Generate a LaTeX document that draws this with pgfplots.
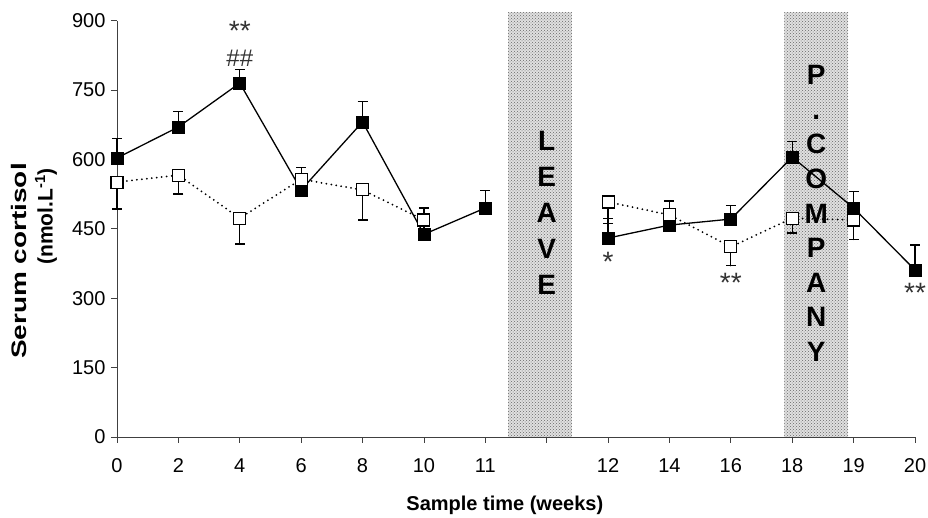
\documentclass[border=0pt]{standalone}
\usepackage{fontspec}
\setmainfont{Liberation Sans}
\usepackage{pgfplots}
\pgfplotsset{compat=1.18}
\usetikzlibrary{patterns}
\usepackage{graphicx}
\begin{document}
\begin{tikzpicture}
\begin{axis}[
  at={(0,0)}, anchor=south west,
  scale only axis, width=798pt, height=416.4pt,
  xmin=0, xmax=13, ymin=0, ymax=900,
  axis x line*=bottom, axis y line*=left,
  axis line style={-, black!75, line width=0.8pt},
  tick align=outside, major tick length=6pt,
  tick style={black!75, line width=0.8pt},
  xtick={0,...,13},
  xticklabels={0,2,4,6,8,10,11,,12,14,16,18,19,20},
  ytick={0,150,...,900},
  tick label style={font=\fontsize{20}{23}\selectfont},
  /pgf/number format/assume math mode=true,
  xticklabel style={font=\fontsize{20}{23}\selectfont, yshift=-12pt},
  yticklabel style={font=\fontsize{20}{23}\selectfont, xshift=-2pt},
  clip=false,
]
% shaded periods
\fill[black!12] (axis cs:6.37,0) rectangle (axis cs:7.41,918);
\fill[pattern=crosshatch dots, pattern color=black!60] (axis cs:6.37,0) rectangle (axis cs:7.41,918);
\fill[black!12] (axis cs:10.87,0) rectangle (axis cs:11.91,918);
\fill[pattern=crosshatch dots, pattern color=black!60] (axis cs:10.87,0) rectangle (axis cs:11.91,918);
\node[align=center, font=\bfseries\fontsize{28}{36}\selectfont, inner sep=0] at (axis cs:7.0,485) {L\\E\\A\\V\\E};
\node[align=center, font=\bfseries\fontsize{28}{34.6}\selectfont, inner sep=0] at (axis cs:11.39,483) {P\\.\\C\\O\\M\\P\\A\\N\\Y};

\pgfplotsset{filledstyle/.style={black, line width=1.3pt, mark=square*, mark size=6pt,
   mark options={solid, fill=black, line width=0.8pt},
   error bars/.cd, y dir=plus, y explicit,
   error bar style={line width=1.2pt, black},
   error mark options={rotate=90, mark size=5pt, line width=1.2pt, black}}}
\pgfplotsset{openstyle/.style={black, line width=2pt, line cap=round, dash pattern=on 0pt off 5pt,
   mark=square*, mark size=6pt,
   mark options={solid, fill=white, line width=1.1pt},
   error bars/.cd, y dir=minus, y explicit,
   error bar style={line width=1.2pt, black, solid},
   error mark options={rotate=90, mark size=5pt, line width=1.2pt, black, solid}}}

\addplot[filledstyle] coordinates {
 (0,603) +- (0,43)
 (1,670) +- (0,34)
 (2,765) +- (0,30)
 (3,534) +- (0,49)
 (4,681) +- (0,45)
 (5,438) +- (0,57)
 (6,495) +- (0,37)
};
\addplot[filledstyle] coordinates {
 (8,430) +- (0,43)
 (9,458) +- (0,52)
 (10,471) +- (0,30)
 (11,605) +- (0,33)
 (12,495) +- (0,35)
 (13,361) +- (0,54)
};
\addplot[openstyle] coordinates {
 (0,551) +- (0,58)
 (1,566) +- (0,41)
 (2,473) +- (0,56)
 (3,557) +- (0,0)
 (4,534) +- (0,65)
 (5,469) +- (0,0)
};
\addplot[openstyle] coordinates {
 (8,508) +- (0,46)
 (9,480) +- (0,0)
 (10,411) +- (0,41)
 (11,473) +- (0,32)
 (12,469) +- (0,42)
};

% significance marks
\begin{scope}[every node/.style={text=black!80, inner sep=0}]
\node[font=\fontsize{28}{30}\selectfont] at (axis cs:2,878) {**};
\node[font=\fontsize{24}{26}\selectfont] at (axis cs:2,819) {\#\#};
\node[font=\fontsize{28}{30}\selectfont] at (axis cs:8,378) {*};
\node[font=\fontsize{28}{30}\selectfont] at (axis cs:10,333) {**};
\node[font=\fontsize{28}{30}\selectfont] at (axis cs:13,311) {**};
\end{scope}

\node[font=\bfseries\fontsize{20}{24}\selectfont] at (rel axis cs:0.486,-0.163) {Sample time (weeks)};
\end{axis}
\node[rotate=90, anchor=east, font=\bfseries\fontsize{21}{24}\selectfont, inner sep=0] at (-98pt,274pt) {\scalebox{1.33}[1]{Serum cortisol}};
\node[rotate=90, anchor=east, font=\bfseries\fontsize{21}{24}\selectfont, inner sep=0] at (-71pt,269pt) {(nmol.L\textsuperscript{-1})};
\pgfresetboundingbox
\path (-117pt,-81pt) rectangle (811pt,437pt);
\end{tikzpicture}
\end{document}
